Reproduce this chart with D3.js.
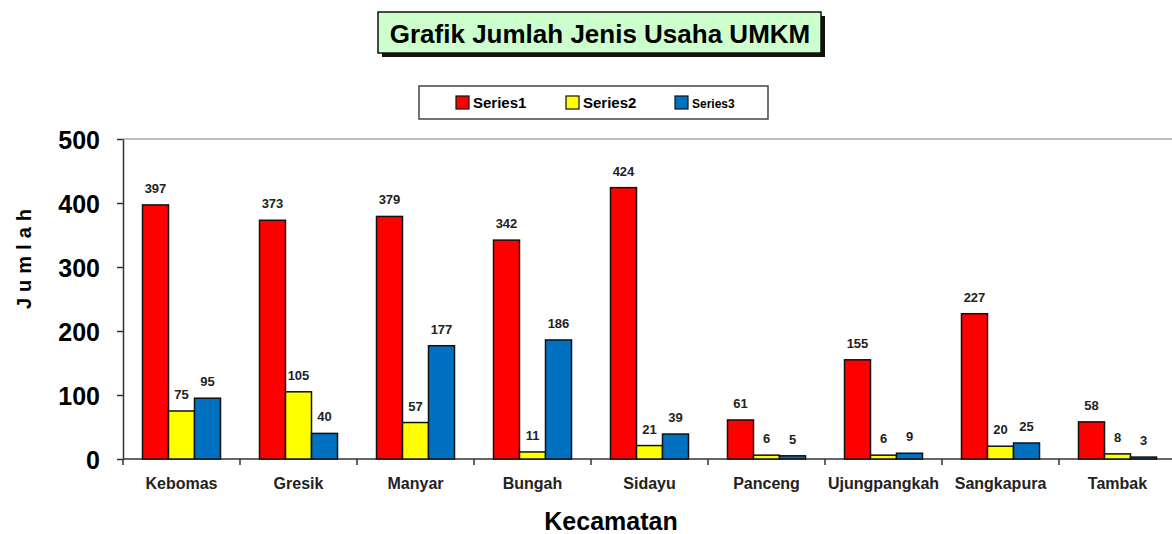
<!DOCTYPE html>
<html>
<head>
<meta charset="utf-8">
<script src="https://cdn.jsdelivr.net/npm/d3@7"></script>
<style>
  body { margin: 0; background: #fff; }
  svg { display: block; font-family: "Liberation Sans", Arial, sans-serif; }
  .axis path, .axis line { stroke: #333; stroke-width: 1.5; }
</style>
</head>
<body>
<div class="chart"></div>
<script>
// data
var categories = ["Kebomas", "Gresik", "Manyar", "Bungah", "Sidayu", "Panceng", "Ujungpangkah", "Sangkapura", "Tambak"];
var seriesNames = ["Series1", "Series2", "Series3"];
var series1 = [397, 373, 379, 342, 424, 61, 155, 227, 58];
var series2 = [75, 105, 57, 11, 21, 6, 6, 20, 8];
var series3 = [95, 40, 177, 186, 39, 5, 9, 25, 3];
var yTicks = [0, 100, 200, 300, 400, 500];
var colors = ["#ff0000", "#ffff00", "#0070c0"];

var svgWidth = 1172, svgHeight = 534;
var margin = {top: 139, left: 123, bottom: 75};

var svg = d3.select(".chart").append("svg")
    .attr("width", svgWidth)
    .attr("height", svgHeight);

var x = d3.scaleBand().domain(categories).range([margin.left, 1176]).padding(0);
var xs = d3.scaleBand().domain(seriesNames)
    .range([x.bandwidth() / 6, x.bandwidth() * 5 / 6]).padding(0);
var y = d3.scaleLinear().domain([0, 500]).range([svgHeight - margin.bottom, margin.top]);

// top border of plot area
svg.append("line")
    .attr("x1", margin.left).attr("x2", svgWidth)
    .attr("y1", y(500)).attr("y2", y(500))
    .attr("stroke", "#aaa").attr("stroke-width", 1.5);

// y axis
var yAxis = svg.append("g").attr("class", "axis")
    .attr("transform", "translate(" + margin.left + ",0)")
    .call(d3.axisLeft(y).tickValues(yTicks).tickSize(6).tickSizeOuter(0).tickPadding(17));
yAxis.selectAll("text")
    .style("font-size", "25px").style("font-weight", "bold").attr("fill", "#000")
    .attr("dy", "0.36em");

// x axis, ticks sit on the category boundaries
var xAxis = svg.append("g").attr("class", "axis")
    .attr("transform", "translate(0," + y(0) + ")");
xAxis.append("line")
    .attr("x1", margin.left).attr("x2", svgWidth)
    .attr("y1", 0).attr("y2", 0);
xAxis.selectAll(".tk").data(categories).enter().append("line")
    .attr("class", "tk")
    .attr("x1", function(d) { return x(d); }).attr("x2", function(d) { return x(d); })
    .attr("y1", 0).attr("y2", 6);
xAxis.selectAll(".lbl").data(categories).enter().append("text")
    .attr("class", "lbl")
    .attr("x", function(d) { return x(d) + x.bandwidth() / 2; })
    .attr("y", 30)
    .attr("text-anchor", "middle")
    .style("font-size", "16px").style("font-weight", "bold").attr("fill", "#222")
    .text(function(d) { return d; });

// bars
var allSeries = [series1, series2, series3];
var rows = [];
categories.forEach(function(c, i) {
    allSeries.forEach(function(s, j) {
        rows.push({cat: c, name: seriesNames[j], value: s[i], color: colors[j]});
    });
});

svg.selectAll(".bar").data(rows).enter().append("rect")
    .attr("class", "bar")
    .attr("x", function(d) { return x(d.cat) + xs(d.name); })
    .attr("width", xs.bandwidth())
    .attr("y", function(d) { return y(d.value); })
    .attr("height", function(d) { return y(0) - y(d.value); })
    .attr("fill", function(d) { return d.color; })
    .attr("stroke", "#111").attr("stroke-width", 1.5);

svg.selectAll(".val").data(rows).enter().append("text")
    .attr("class", "val")
    .attr("x", function(d) { return x(d.cat) + xs(d.name) + xs.bandwidth() / 2; })
    .attr("y", function(d) { return y(d.value) - 12; })
    .attr("text-anchor", "middle")
    .style("font-size", "13px").style("font-weight", "bold").attr("fill", "#222")
    .text(function(d) { return d.value; });

// axis titles
svg.append("text")
    .attr("transform", "translate(31,256) rotate(-90)")
    .attr("text-anchor", "middle")
    .style("font-size", "20px").style("font-weight", "bold").style("letter-spacing", "6px")
    .text("Jumlah");

svg.append("text")
    .attr("x", 611).attr("y", 530)
    .attr("text-anchor", "middle")
    .style("font-size", "25px").style("font-weight", "bold")
    .text("Kecamatan");

// title box with shadow
var title = svg.append("g");
title.append("rect")
    .attr("x", 382).attr("y", 16).attr("width", 443).attr("height", 41)
    .attr("fill", "#111");
title.append("rect")
    .attr("x", 378).attr("y", 12).attr("width", 443).attr("height", 41)
    .attr("fill", "#ccffcc").attr("stroke", "#111").attr("stroke-width", 1.5);
title.append("text")
    .attr("x", 600).attr("y", 43)
    .attr("text-anchor", "middle")
    .style("font-size", "26px").style("font-weight", "bold")
    .text("Grafik Jumlah Jenis Usaha UMKM");

// legend
var legend = svg.append("g");
legend.append("rect")
    .attr("x", 419).attr("y", 86).attr("width", 349).attr("height", 33)
    .attr("fill", "#fff").attr("stroke", "#444").attr("stroke-width", 1.5);
var legendX = [456, 566, 675];
var legendSize = ["15px", "15px", "12px"];
seriesNames.forEach(function(n, i) {
    legend.append("rect")
        .attr("x", legendX[i]).attr("y", 96).attr("width", 13).attr("height", 13)
        .attr("fill", colors[i]).attr("stroke", "#111").attr("stroke-width", 1.2);
    legend.append("text")
        .attr("x", legendX[i] + 17).attr("y", 108)
        .style("font-size", legendSize[i]).style("font-weight", "bold")
        .text(n);
});
</script>
</body>
</html>
